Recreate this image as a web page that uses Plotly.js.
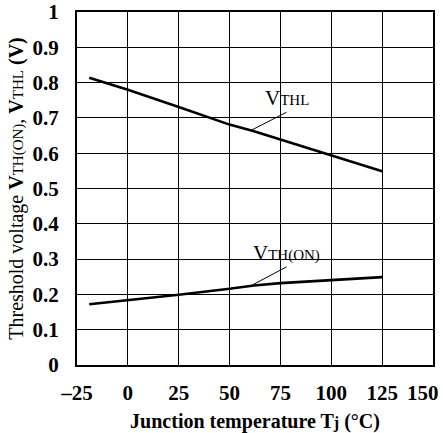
<!DOCTYPE html>
<html><head><meta charset="utf-8">
<script src="https://cdn.plot.ly/plotly-3.0.1.min.js"></script>
<style>
html,body{margin:0;padding:0;background:#fff;}
</style>
</head><body>
<div id="chart" style="width:443px;height:433px;"></div>
<script>
const tempC = [-19, 0, 25, 50, 62, 75, 100, 125];
const vthl = [0.814, 0.780, 0.731, 0.681, 0.662, 0.639, 0.594, 0.549];
const vthon = [0.172, 0.183, 0.199, 0.216, 0.225, 0.232, 0.241, 0.249];
const xTicks = [-25, 0, 25, 50, 75, 100, 125, 150];
const xTickText = ['\u201325', '0', '25', '50', '75', '100', '125', '150'];
const yTicks = [0, 0.1, 0.2, 0.3, 0.4, 0.5, 0.6, 0.7, 0.8, 0.9, 1];
const yTickText = ['0', '0.1', '0.2', '0.3', '0.4', '0.5', '0.6', '0.7', '0.8', '0.9', '1'];

const FONT = 'Liberation Serif';
const lastX = xTicks.length - 1;
// last x label ("150") is drawn as an annotation so it can hug the right edge like the reference
const xAxisText = xTickText.map((t, i) => i === lastX ? '' : t);
const traces = [
  {x: tempC, y: vthl, mode: 'lines', line: {color: '#000', width: 2.6}, showlegend: false, hoverinfo: 'skip'},
  {x: tempC, y: vthon, mode: 'lines', line: {color: '#000', width: 2.6}, showlegend: false, hoverinfo: 'skip'}
];
const layout = {
  width: 443, height: 433,
  margin: {l: 77, r: 10, t: 12, b: 68},
  paper_bgcolor: '#fff', plot_bgcolor: '#fff',
  font: {family: FONT, color: '#000'},
  xaxis: {
    range: [-25, 150], tickvals: xTicks, ticktext: xAxisText,
    showgrid: true, gridcolor: '#000', gridwidth: 1, zeroline: false,
    showline: true, linecolor: '#000', linewidth: 2, mirror: true,
    ticks: '', ticklabelstandoff: 8, ticklabeloverflow: 'allow',
    tickfont: {family: FONT, size: 21, weight: 'bold', color: '#000'},
    title: {text: '<b>Junction temperature T<span style="font-size:16px">j</span> (\u00b0C)</b>', font: {family: FONT, size: 20, color: '#000'}, standoff: 10}
  },
  yaxis: {
    range: [0, 1], tickvals: yTicks, ticktext: yTickText,
    showgrid: true, gridcolor: '#000', gridwidth: 1, zeroline: false,
    showline: true, linecolor: '#000', linewidth: 2, mirror: true,
    ticks: '', ticklabelstandoff: 12, ticklabeloverflow: 'allow',
    tickfont: {family: FONT, size: 21, weight: 'bold', color: '#000'},
    title: {text: 'Threshold voltage <b>V</b><span style="font-size:15px">TH(ON)</span>, <b>V</b><span style="font-size:15px">THL</span> <b>(V)</b>', font: {family: FONT, size: 20, color: '#000'}, standoff: 4}
  },
  annotations: [
    {x: 61, y: 0.666, ax: 78, ay: 0.716, axref: 'x', ayref: 'y', xref: 'x', yref: 'y',
     xanchor: 'center', yanchor: 'bottom',
     text: 'V<span style="font-size:15px">THL</span>', showarrow: true, arrowhead: 0, arrowwidth: 1, arrowcolor: '#000',
     font: {family: FONT, size: 21, color: '#000'}},
    {x: 61, y: 0.226, ax: 78, ay: 0.278, axref: 'x', ayref: 'y', xref: 'x', yref: 'y',
     xanchor: 'center', yanchor: 'bottom',
     text: 'V<span style="font-size:15px">TH(ON)</span>', showarrow: true, arrowhead: 0, arrowwidth: 1, arrowcolor: '#000',
     font: {family: FONT, size: 21, color: '#000'}},
    {x: xTicks[lastX], y: 0, xref: 'x', yref: 'paper', xanchor: 'right', yanchor: 'top',
     xshift: 8, yshift: -14, showarrow: false, text: xTickText[lastX],
     font: {family: FONT, size: 21, weight: 'bold', color: '#000'}}
  ]
};
Plotly.newPlot('chart', traces, layout, {staticPlot: true, displayModeBar: false});
</script>
</body></html>
